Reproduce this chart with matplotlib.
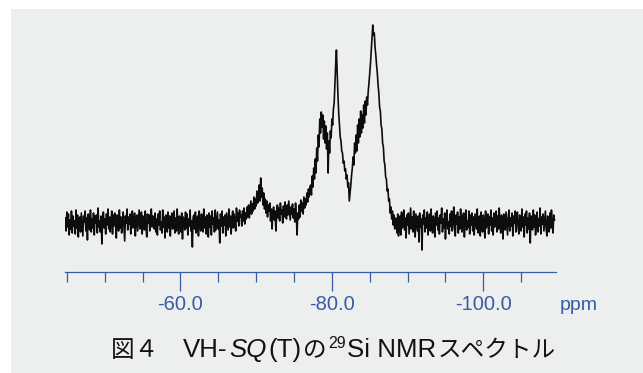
"""29Si NMR spectrum of VH-SQ(T), redrawn as in figure 4."""

import numpy as np
import matplotlib
matplotlib.use("Agg")
import matplotlib.pyplot as plt
from matplotlib.patches import Rectangle

W, H = 643, 373
BLUE = "#3a5ca6"
PANEL = "#edeeee"

# ppm range covered by each stretch of the trace, and the intensities read off
# the picture (arbitrary units, baseline = 0)
seg_ppm = [(-44.8, -67.9), (-68.0, -77.1), (-77.2, -88.4), (-88.5, -109.4)]

baseline_left = [
    5, -8, 11, -4, 9, -12, 3, -6, 12, -10,
    7, -3, 2, -11, 13, -5, 8, -14, 4, 6,
    -9, 10, -2, -13, 7, 1, 12, -8, 5, -17,
    9, 3, -7, 13, -9, 4, -5, 10, -12, 7,
    0, 8, -10, 15, -4, 2, -9, 7, -21, 5,
    11, -5, 4, -11, 9, -2, 14, -6, 6, -9,
    3, 12, -11, 8, -3, 10, -1, -15, 8, 5,
    -8, 13, -5, 6, -10, 2, 11, -4, -18, 7,
    0, 14, -7, 6, -1, 9, -11, 4, 12, -5,
    -2, 10, -13, 5, 8, -8, 3, 13, -6, -3,
    11, -11, 7, 4, -7, 12, -3, -14, 9, 0,
    8, -8, 6, 14, -4, 7, 3, -6, 10, -9,
    4, -12, 9, -2, 12, -7, 1, -10, 13, -4,
    6, -15, 8, 2, -9, 11, -5, 7, -13, 3,
    10, -6, -1, 12, -10, 5, -8, 14, -3, -11,
    7, 1, -9, 10, -16, 6, 3, -7, 11, -5,
    9, -12, 4, -3, 13, -8, 2, -24, 6, 8,
    -6, 11, -10, 3, 7, -13, 12, -2, -8, 9,
    1, -9, 14, -5, 6, -11, 8, 0, -14, 10,
    -4, 7, -12, 12, -1, 5, -9, 13, -7, 2,
    11, -6, 3, -20, 9, -3, 12, -10, 6, -2,
    8, -13, 10, 1, -7, 14, -4, 7, -11, 5,
    12, -5, 9, 3, -8, 15, 2, 10, -3, 13,
    6,
]

t1_bump = [
    8, -3, 12, 2, 15, -1, 10, 4, 16, 6,
    18, 5, 14, 22, 9, 19, 12, 26, 14, 24,
    17, 32, 20, 28, 38, 22, 45, 26, 35, 18,
    30, 14, 24, 10, 22, 6, 18, 12, 20, 2,
    14, -6, 10, 16, 3, 12, -8, 8, 18, 5,
    15, 2, 20, 9, 13, 0, 17, 6, 21, 10,
    4, 18, 8, 22, 12, 3, 16, 9, 19, 5,
    14, 1, 20, 8, -12, 10, 4, 18, 6, 23,
    12, 20, 9, 26, 15, 24, 18, 30, 21, 34,
    26, 36,
]

t2_t3_peaks = [
    38, 28, 47, 36, 55, 44, 64, 50, 75, 62,
    88, 76, 104, 90, 111, 96, 108, 84, 102, 80,
    97, 74, 90, 50, 82, 70, 92, 85, 104, 98,
    114, 120, 140, 158, 173, 150, 128, 110, 98, 86,
    82, 72, 70, 60, 62, 52, 54, 44, 48, 36,
    40, 22, 30, 38, 48, 55, 66, 58, 80, 70,
    88, 72, 98, 80, 104, 86, 112, 90, 108, 95,
    118, 100, 122, 108, 126, 118, 132, 140, 150, 160,
    172, 185, 198, 188, 190, 176, 168, 158, 150, 138,
    130, 116, 112, 98, 94, 80, 76, 62, 58, 46,
    44, 32, 34, 22, 24, 10, 16, 4, 12, -2,
    8, -6, 5,
]

baseline_right = [
    4, -10, 9, -13, 3, 7, -12, 11, -5, -1,
    13, -7, 5, -15, 8, -2, 10, -11, 2, 15,
    -6, 6, -9, 12, -3, -14, 9, 1, -8, 7,
    -19, 10, -4, 4, -27, 8, -1, 13, -9, 5,
    -5, 11, -12, 3, 9, -8, 14, -3, -10, 7,
    2, -14, 10, -2, 12, -7, 5, -11, 8, 0,
    15, -9, 4, -5, 10, -16, 6, 13, -6, 1,
    -11, 9, -3, 12, -8, 3, 16, -5, -13, 8,
    -1, 11, -10, 6, -6, 14, -2, -9, 7, 10,
    -14, 5, 13, -7, 2, -4, 12, -11, 8, -2,
    10, -8, 6, -12, 9, 1, -6, 14, -10, 4,
    7, -13, 11, -3, -9, 8, 2, -15, 12, -5,
    3, 9, -11, 6, -2, 13, -8, 5, -12, 10,
    -4, 1, 12, -9, 7, -6, 15, -3, -10, 8,
    2, -16, 9, 4, -7, 11, -1, -12, 6, 13,
    -8, 5, -3, 10, -13, 7, 0, 12, -9, 3,
    11, -5, -11, 8, 2, -8, 14, -4, 6, -14,
    9, -2, 12, -10, 5, -6, 10, -20, 7, 1,
    -7, 13, -4, 8, -12, 3, 11, -9, 4, -3,
    15, -11, 6, -1, 9, -8, 2, 12, -6, -13,
    7, 4, -9, 10, -5, 13, -2, -10, 8, 3,
]

segments = [baseline_left, t1_bump, t2_t3_peaks, baseline_right]

major_ticks = [-60, -80, -100]
major_labels = ["-60.0", "-80.0", "-100.0"]
minor_ticks = [-45, -50, -55, -65, -70, -75, -85, -90, -95, -105]
x_range = (-44.75, -109.6)

# caption pieces: text, style
title_parts = [
    ("図４　", "cjk"),
    ("VH-", "latin"),
    ("SQ", "italic"),
    ("(T)", "latin"),
    ("の", "cjk"),
    ("29", "sup"),
    ("Si NMR", "latin"),
    ("スペクトル", "cjk"),
]
styles = {
    "cjk": dict(family=["Noto Sans CJK JP"], size=17),
    "latin": dict(family=["Liberation Sans", "Noto Sans CJK JP"], size=18.6),
    "italic": dict(family=["Liberation Sans"], size=18.6, style="italic"),
    "sup": dict(family=["Liberation Sans"], size=11.5),
}

ppm = np.concatenate([np.linspace(a, b, len(s)) for (a, b), s in zip(seg_ppm, segments)])
intensity = np.concatenate([np.asarray(s, dtype=float) for s in segments])

fig = plt.figure(figsize=(W / 100, H / 100), dpi=100, facecolor="white")
fig.patches.append(Rectangle((11 / W, 0), 1, (H - 9) / H, transform=fig.transFigure,
                             facecolor=PANEL, edgecolor="none", zorder=-5))

ax = fig.add_axes([65 / W, (H - 272) / H, 491 / W, 257 / H])
ax.set_facecolor("none")
ax.plot(ppm, intensity, color="#0d0d0d", lw=1.2)
ax.set_xlim(*x_range)
ax.set_ylim(-49, 208)

for side in ("left", "right", "top"):
    ax.spines[side].set_visible(False)
ax.spines["bottom"].set_color(BLUE)
ax.spines["bottom"].set_linewidth(0.9)
ax.set_yticks([])
ax.set_xticks(major_ticks)
ax.set_xticklabels(major_labels)
ax.set_xticks(minor_ticks, minor=True)
ax.tick_params(axis="x", which="major", length=13.7, width=0.9, color=BLUE,
               labelcolor=BLUE, labelsize=14.5, pad=3)
ax.tick_params(axis="x", which="minor", length=7.2, width=0.9, color=BLUE)
for lab in ax.get_xticklabels():
    lab.set_family("Liberation Sans")

fig.text(560 / W, (H - 309.5) / H, "ppm", color=BLUE, fontsize=14,
         family="Liberation Sans", ha="left", va="baseline")

# lay the caption out piece by piece
fig.canvas.draw()
renderer = fig.canvas.get_renderer()
x = 111.0
base = (H - 357) / H
for text, kind in title_parts:
    y = base + (9 / H if kind == "sup" else 0)
    t = fig.text(x / W, y, text, color="#111111", ha="left", va="baseline", **styles[kind])
    x += t.get_window_extent(renderer).width + 1.5

fig.savefig("out.png", dpi=100, facecolor="white")
